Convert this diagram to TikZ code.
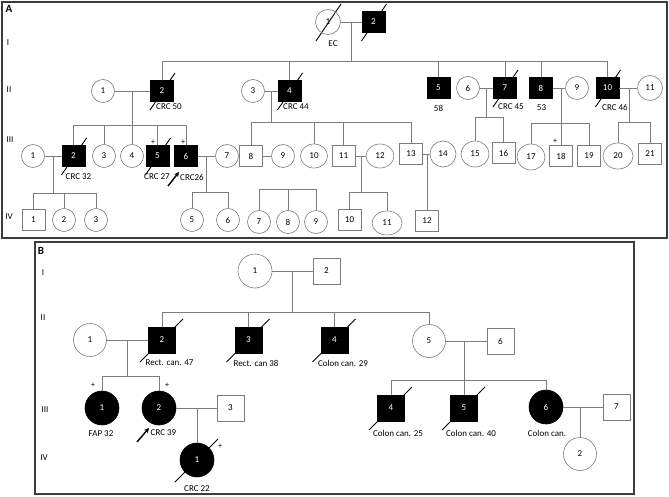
\documentclass[tikz,border=0pt]{standalone}
\usepackage{fontspec}
\setmainfont{Carlito}
\usetikzlibrary{calc,arrows.meta,shapes.geometric}
\definecolor{lg}{RGB}{125,125,125}
\definecolor{fr}{RGB}{60,60,60}
\pgfdeclarelayer{bglayer}
\pgfsetlayers{bglayer,main}
\begin{document}
\begin{tikzpicture}[x=1pt,y=-1pt,font=\fontsize{9}{10}\selectfont,
 ln/.style={draw=lg,line width=0.6pt},
 pframe/.style={draw=fr,line width=1.3pt},
 asq/.style={rectangle,draw=lg,fill=white,line width=0.6pt,minimum width=23pt,minimum height=21pt,inner sep=0pt},
 asqf/.style={asq,draw=black,fill=black,text=white},
 el/.style 2 args={ellipse,draw=lg,fill=white,line width=0.6pt,minimum width=#1pt,minimum height=#2pt,inner sep=0pt},
 acir/.style={el={23}{23}},
 bsq/.style={rectangle,draw=lg,fill=white,line width=0.6pt,minimum width=27pt,minimum height=26pt,inner sep=0pt},
 bsqf/.style={bsq,draw=black,fill=black,text=white},
 bcir/.style={el={34}{34}},
 bcirf/.style={bcir,draw=black,fill=black,text=white},
 sl/.style={black,line width=0.9pt},
 arr/.style={black,line width=1.4pt,-{Stealth[length=5pt,width=5pt]}},
 lab/.style={inner sep=0pt},
 pl/.style={inner sep=0pt,font=\fontsize{8}{9}\selectfont},
 ttl/.style={inner sep=0pt,font=\bfseries\fontsize{11}{12}\selectfont}]
\begin{pgfonlayer}{bglayer}
\fill[white] (0,0) rectangle (669,497);
\end{pgfonlayer}
\useasboundingbox (0,0) rectangle (669,497);
\draw[pframe] (2,2) rectangle (667,238);
\draw[pframe] (35,242) rectangle (634,494);

% ---------------- Panel A ----------------
\node[ttl] (tA) at (9,9) {A};
\node[lab] (gA1) at (8,43) {I};
\node[lab] (gA2) at (9,90) {II};
\node[lab] (gA3) at (10,140) {III};
\node[lab] (gA4) at (9,217) {IV};

% generation I
\node[el={25}{25},fill=none] (A11) at (328,22) {1};
\node[asqf] (A12) at (373.5,22) {2};
\node[lab] (lEC) at (333,44) {EC};

% generation II
\node[acir] (A21) at (103,91) {1};
\node[asqf] (A22) at (162,91) {2};
\node[acir] (A23) at (253,91) {3};
\node[asqf] (A24) at (289.5,91) {4};
\node[asqf] (A25) at (438.5,88) {5};
\node[acir] (A26) at (468,88) {6};
\node[asqf] (A27) at (505,88) {7};
\node[asqf] (A28) at (541,88) {8};
\node[acir] (A29) at (577,88) {9};
\node[asqf] (A210) at (607.5,88) {10};
\node[el={25}{25}] (A211) at (650,88) {11};
\node[lab] (l22) at (169,107) {CRC 50};
\node[lab] (l24) at (296,107) {CRC 44};
\node[lab] (l25) at (438.5,108) {58};
\node[lab] (l27) at (511,107) {CRC 45};
\node[lab] (l28) at (541.5,108) {53};
\node[lab] (l210) at (615,107) {CRC 46};

% generation III
\node[acir] (A31) at (33,156) {1};
\node[asqf] (A32) at (73.5,156) {2};
\node[acir] (A33) at (104,156) {3};
\node[acir] (A34) at (132,156) {4};
\node[asqf] (A35) at (157.5,156) {5};
\node[asqf] (A36) at (186,156) {6};
\node[acir] (A37) at (227,156) {7};
\node[asq] (A38) at (251,156) {8};
\node[acir] (A39) at (283,156) {9};
\node[el={27}{24}] (A310) at (314,156) {10};
\node[asq] (A311) at (343.5,156) {11};
\node[el={28}{24}] (A312) at (380,156) {12};
\node[asq] (A313) at (411,154) {13};
\node[el={26}{26}] (A314) at (443,154) {14};
\node[el={28}{26}] (A315) at (475,154) {15};
\node[asq] (A316) at (503.5,153) {16};
\node[el={28}{26}] (A317) at (531,157) {17};
\node[asq] (A318) at (561,156) {18};
\node[asq] (A319) at (589,156) {19};
\node[el={30}{26}] (A320) at (618,156) {20};
\node[asq] (A321) at (650,154) {21};
\node[lab] (l32) at (78.5,177) {CRC 32};
\node[lab] (l35) at (157,177) {CRC 27};
\node[lab] (l36) at (192,177) {CRC26};
\node[pl] (p35) at (153,142) {+};
\node[pl] (p36) at (183,142) {+};
\node[pl] (p318) at (555,141) {+};

% generation IV
\node[asq] (A41) at (33.5,220) {1};
\node[acir] (A42) at (64,220) {2};
\node[acir] (A43) at (96,220) {3};
\node[acir] (A45) at (192,220) {5};
\node[acir] (A46) at (228,220) {6};
\node[acir] (A47) at (259,222) {7};
\node[acir] (A48) at (288,222) {8};
\node[acir] (A49) at (316,222) {9};
\node[asq] (A410) at (349.5,220) {10};
\node[el={30}{24}] (A411) at (387,223) {11};
\node[asq] (A412) at (427,221) {12};

% connectors A
\draw[ln] (A11.east) -- (A12.west);
\coordinate (mI) at ($(A11.east)!.5!(A12.west)$);
\coordinate (sII) at (350,61);
\draw[ln] (mI) -- (mI |- sII);
\draw[ln] (A22 |- sII) -- (A210 |- sII);
\foreach \n in {A22,A24,A25,A27,A28,A210} \draw[ln] (\n |- sII) -- (\n.north);

\draw[ln] (A21.east) -- (A22.west);
\coordinate (sIIIa) at (131,125);
\draw[ln] (A34 |- A21.east) -- (A34.north);
\draw[ln] (A32 |- sIIIa) -- (A36 |- sIIIa);
\foreach \n in {A32,A33,A35,A36} \draw[ln] (\n |- sIIIa) -- (\n.north);

\draw[ln] (A23.east) -- (A24.west);
\coordinate (m23) at ($(A23.east)!.5!(A24.west)$);
\coordinate (sIIIb) at (272,122);
\draw[ln] (m23) -- (m23 |- sIIIb);
\draw[ln] (A38 |- sIIIb) -- (A313 |- sIIIb);
\foreach \n in {A38,A310,A311,A313} \draw[ln] (\n |- sIIIb) -- (\n.north);

\draw[ln] (A26.east) -- (A27.west);
\coordinate (m67) at ($(A26.east)!.5!(A27.west)$);
\coordinate (sIIIc) at (485,117);
\draw[ln] (m67) -- (m67 |- sIIIc);
\draw[ln] (A315 |- sIIIc) -- (A316 |- sIIIc);
\foreach \n in {A315,A316} \draw[ln] (\n |- sIIIc) -- (\n.north);

\draw[ln] (A28.east) -- (A29.west);
\coordinate (sIIId) at (561,123);
\draw[ln] (A318 |- A28.east) -- (A318.north);
\draw[ln] (A317 |- sIIId) -- (A319 |- sIIId);
\foreach \n in {A317,A319} \draw[ln] (\n |- sIIId) -- (\n.north);

\draw[ln] (A210.east) -- (A211.west);
\coordinate (m1011) at ($(A210.east)!.55!(A211.west)$);
\coordinate (sIIIe) at (631,122);
\draw[ln] (m1011) -- (m1011 |- sIIIe);
\draw[ln] (A320 |- sIIIe) -- (A321 |- sIIIe);
\foreach \n in {A320,A321} \draw[ln] (\n |- sIIIe) -- (\n.north);

\draw[ln] (A31.east) -- (A32.west);
\coordinate (m312) at ($(A31.east)!.5!(A32.west)$);
\coordinate (sIVa) at (52,193);
\draw[ln] (m312) -- (m312 |- sIVa);
\draw[ln] (A41 |- sIVa) -- (A43 |- sIVa);
\foreach \n in {A41,A42,A43} \draw[ln] (\n |- sIVa) -- (\n.north);

\draw[ln] (A36.east) -- (A37.west);
\coordinate (m367) at ($(A36.east)!.5!(A37.west)$);
\coordinate (sIVb) at (207,192);
\draw[ln] (m367) -- (m367 |- sIVb);
\draw[ln] (A45 |- sIVb) -- (A46 |- sIVb);
\foreach \n in {A45,A46} \draw[ln] (\n |- sIVb) -- (\n.north);

\draw[ln] (A38.east) -- (A39.west);
\coordinate (sIVc) at (288,189);
\draw[ln] (A47 |- sIVc) -- (A49 |- sIVc);
\foreach \n in {A47,A48,A49} \draw[ln] (\n |- sIVc) -- (\n.north);

\draw[ln] (A311.east) -- (A312.west);
\coordinate (m3112) at ($(A311.east)!.55!(A312.west)$);
\coordinate (sIVd) at (362,192);
\draw[ln] (m3112) -- (m3112 |- sIVd);
\draw[ln] (A410 |- sIVd) -- (A411 |- sIVd);
\foreach \n in {A410,A411} \draw[ln] (\n |- sIVd) -- (\n.north);

\draw[ln] (A313.east) -- (A314.west);
\draw[ln] (A412 |- A313.east) -- (A412.north);

% slashes (behind the symbols) and arrow A
\begin{pgfonlayer}{bglayer}
\foreach \n in {A11,A12,A22,A24,A27,A210,A32,A35}
  \draw[sl] ($(\n)+(-12,19)$) -- ($(\n)+(13,-18)$);
\end{pgfonlayer}
\coordinate (arA) at ($(A36)+(-18,30)$);
\draw[arr] (arA) -- ($(A36)+(-7,16)$);

% ---------------- Panel B ----------------
\node[ttl] (tB) at (41,251) {B};
\node[lab] (gB1) at (43,273) {I};
\node[lab] (gB2) at (43,318) {II};
\node[lab] (gB3) at (45,410) {III};
\node[lab] (gB4) at (44,458) {IV};

\node[bcir] (B11) at (255,271) {1};
\node[bsq] (B12) at (326.5,271) {2};

\node[el={33}{33}] (B21) at (90,340) {1};
\node[bsqf] (B22) at (162,340) {2};
\node[bsqf] (B23) at (248.5,340) {3};
\node[bsqf] (B24) at (334.5,340) {4};
\node[el={33}{33}] (B25) at (429,341) {5};
\node[bsq] (B26) at (500.5,341) {6};
\node[lab] (l22b) at (169.5,363) {Rect. can. 47};
\node[lab] (l23b) at (256,363) {Rect. can 38};
\node[lab] (l24b) at (343,363) {Colon can. 29};

\node[bcirf] (B31) at (102,408) {1};
\node[bcirf] (B32) at (159,408) {2};
\node[bsq] (B33) at (230.5,408) {3};
\node[bsqf] (B34) at (391,408) {4};
\node[bsqf] (B35) at (464,408) {5};
\node[bcirf] (B36) at (546,407) {6};
\node[bsq] (B37) at (616.5,407) {7};
\node[lab] (l31b) at (101,434) {FAP 32};
\node[lab] (l32b) at (163.5,433) {CRC 39};
\node[lab] (l34b) at (398,433) {Colon can. 25};
\node[lab] (l35b) at (471,433) {Colon can. 40};
\node[lab] (l36b) at (547,433) {Colon can.};
\node[pl] (p31b) at (93,385) {+};
\node[pl] (p32b) at (167,385) {+};

\node[bcirf] (B41) at (197,460) {1};
\node[el={33}{33}] (B42) at (580,454) {2};
\node[lab] (l41b) at (197,489) {CRC 22};
\node[pl] (p41b) at (220,446) {+};

% connectors B
\draw[ln] (B11.east) -- (B12.west);
\coordinate (mBI) at ($(B11.east)!.5!(B12.west)$);
\coordinate (sBII) at (292,312);
\draw[ln] (mBI) -- (mBI |- sBII);
\draw[ln] (B22 |- sBII) -- (B25 |- sBII);
\foreach \n in {B22,B23,B24,B25} \draw[ln] (\n |- sBII) -- (\n.north);

\draw[ln] (B21.east) -- (B22.west);
\coordinate (mB12) at ($(B21.east)!.5!(B22.west)$);
\coordinate (sBIIIa) at (127,376);
\draw[ln] (mB12) -- (mB12 |- sBIIIa);
\draw[ln] (B31 |- sBIIIa) -- (B32 |- sBIIIa);
\foreach \n in {B31,B32} \draw[ln] (\n |- sBIIIa) -- (\n.north);

\draw[ln] (B25.east) -- (B26.west);
\coordinate (sBIIIb) at (464,380);
\draw[ln] (B35 |- B25.east) -- (B35.north);
\draw[ln] (B34 |- sBIIIb) -- (B36 |- sBIIIb);
\foreach \n in {B34,B36} \draw[ln] (\n |- sBIIIb) -- (\n.north);

\draw[ln] (B32.east) -- (B33.west);
\draw[ln] (B41 |- B32.east) -- (B41.north);

\draw[ln] (B36.east) -- (B37.west);
\draw[ln] (B42 |- B36.east) -- (B42.north);

% slashes (behind the symbols) and arrow B
\begin{pgfonlayer}{bglayer}
\foreach \n in {B22,B23,B24,B34,B35,B41}
  \draw[sl] ($(\n)+(-22,22)$) -- ($(\n)+(21,-21)$);
\end{pgfonlayer}
\coordinate (arB) at ($(B32)+(-22,34)$);
\draw[arr] (arB) -- ($(B32)+(-10,20)$);
\end{tikzpicture}
\end{document}
